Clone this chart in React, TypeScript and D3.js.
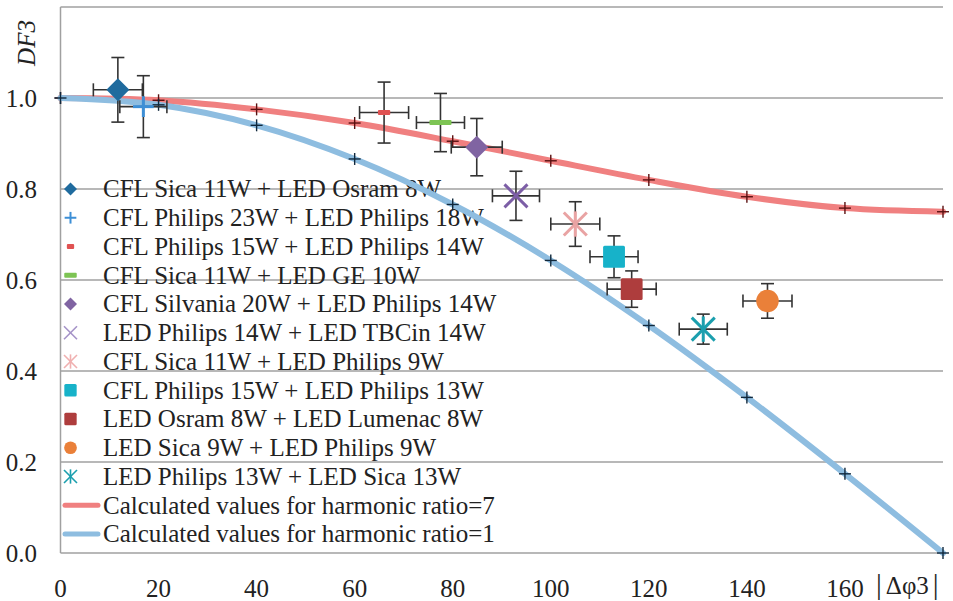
import React from "react";
import * as d3 from "d3";

const W = 953, H = 601;

// curve abscissas and calculated values
const curveX = [0, 20, 40, 60, 80, 100, 120, 140, 160, 180];
const ratio7 = [1.0, 0.995, 0.975, 0.945, 0.905, 0.862, 0.82, 0.783, 0.758, 0.75];
const ratio1 = [1.0, 0.985, 0.94, 0.866, 0.766, 0.643, 0.5, 0.342, 0.174, 0.0];

// measured points
const names = [
  "CFL Sica 11W + LED Osram 8W",
  "CFL Philips 23W + LED Philips 18W",
  "CFL Philips 15W + LED Philips 14W",
  "CFL Sica 11W + LED GE 10W",
  "CFL Silvania 20W + LED Philips 14W",
  "LED Philips 14W + LED TBCin 14W",
  "CFL Sica 11W + LED Philips 9W",
  "CFL Philips 15W + LED Philips 13W",
  "LED Osram 8W + LED Lumenac 8W",
  "LED Sica 9W + LED Philips 9W",
  "LED Philips 13W + LED Sica 13W",
];
const ptX = [11.7, 16.9, 66.0, 77.5, 84.9, 92.9, 105.0, 112.9, 116.5, 144.2, 131.1];
const ptY = [1.018, 0.981, 0.968, 0.946, 0.892, 0.785, 0.723, 0.651, 0.58, 0.554, 0.492];
const errX = [5, 4.8, 5, 4.9, 5.2, 4.8, 5, 4.9, 5, 5, 4.9];
const errY = [0.071, 0.068, 0.067, 0.064, 0.063, 0.054, 0.049, 0.046, 0.04, 0.038, 0.033];
const markers = ["diamond", "plus", "dash", "dashLong", "diamond", "x", "star", "square", "square", "circle", "star"];
const colors = ["#1F6B9E", "#3D8FD6", "#E05252", "#7DC454", "#8064A2", "#7C5EA6", "#E9A3A3", "#17B2C9", "#AE3D3D", "#EA8039", "#1B9FAE"];
const legendColors = ["#1F6B9E", "#3D8FD6", "#E05252", "#7DC454", "#8064A2", "#A593C8", "#F0B0B0", "#17B2C9", "#AE3D3D", "#EA8039", "#1B9FAE"];
const lineNames = ["Calculated values for harmonic ratio=7", "Calculated values for harmonic ratio=1"];
const lineColors = ["#F08080", "#8EBDE0"];

const xTicks = [0, 20, 40, 60, 80, 100, 120, 140, 160];
const yTicks = [0.0, 0.2, 0.4, 0.6, 0.8, 1.0, 1.2];

const FONT = "Liberation Serif, serif";

function Marker({ type, x, y, s, color }: { type: string; x: number; y: number; s: number; color: string }) {
  const h = s / 2;
  switch (type) {
    case "diamond":
      return <path d={`M${x},${y - h}L${x + h},${y}L${x},${y + h}L${x - h},${y}Z`} fill={color} />;
    case "square":
      return <rect x={x - h * 0.95} y={y - h * 0.95} width={h * 1.9} height={h * 1.9} fill={color} rx={1.5} />;
    case "circle":
      return <circle cx={x} cy={y} r={h * 0.98} fill={color} />;
    case "plus":
      return (
        <g stroke={color} strokeWidth={s > 14 ? 3 : 2}>
          <line x1={x - h * 0.9} x2={x + h * 0.9} y1={y} y2={y} />
          <line x1={x} x2={x} y1={y - h * 0.9} y2={y + h * 0.9} />
        </g>
      );
    case "dash":
      return <rect x={x - s * 0.28} y={y - 2.5} width={s * 0.56} height={5} fill={color} rx={1} />;
    case "dashLong":
      return <rect x={x - s * 0.48} y={y - 2.5} width={s * 0.96} height={5} fill={color} rx={1} />;
    case "x":
      return (
        <g stroke={color} strokeWidth={s > 14 ? 3 : 1.6}>
          <line x1={x - h} x2={x + h} y1={y - h} y2={y + h} />
          <line x1={x - h} x2={x + h} y1={y + h} y2={y - h} />
        </g>
      );
    case "star":
      return (
        <g stroke={color} strokeWidth={s > 14 ? 3 : 1.6}>
          <line x1={x - h} x2={x + h} y1={y - h} y2={y + h} />
          <line x1={x - h} x2={x + h} y1={y + h} y2={y - h} />
          <line x1={x} x2={x} y1={y - h * 1.1} y2={y + h * 1.1} />
        </g>
      );
  }
  return null;
}

export default function App() {
  const x = d3.scaleLinear().domain([0, 180]).range([60.5, 943]);
  const y = d3.scaleLinear().domain([0, 1.2]).range([553, 7]);
  const line = d3
    .line<number>()
    .x((_, i) => x(curveX[i]))
    .y((d) => y(d))
    .curve(d3.curveCatmullRom.alpha(0.5));

  const legendTop = 189;
  const legendStep = 28.75;
  const allLegend = [...names, ...lineNames];
  const ts = { fontFamily: FONT };
  const cap = 6.5;

  return (
    <svg width={W} height={H} style={{ position: "absolute", left: 0, top: 0, background: "#fff" }}>
      <rect width={W} height={H} fill="#fff" />
      {/* grid */}
      {yTicks.map((t) => (
        <line key={t} x1={x(0)} x2={x(180)} y1={y(t)} y2={y(t)} stroke="#A0A0A0" strokeWidth={1.5} />
      ))}
      <line x1={x(0)} x2={x(0)} y1={y(1.2)} y2={y(0)} stroke="#A0A0A0" strokeWidth={1.5} />

      {/* y tick labels */}
      {yTicks.filter((t) => t < 1.1).map((t) => (
        <text key={t} x={37} y={y(t)} dy="0.34em" textAnchor="end" fontSize={25} fill="#222" style={ts}>
          {d3.format(".1f")(t)}
        </text>
      ))}
      {/* x tick labels */}
      {xTicks.map((t) => (
        <text key={t} x={x(t)} y={597} textAnchor="middle" fontSize={25} fill="#222" style={ts}>
          {t}
        </text>
      ))}
      <text x={876} y={594} fontSize={25} fill="#222" style={ts}>
        <tspan fontSize={29}>|</tspan>
        <tspan dx={4}>Δφ3</tspan>
        <tspan dx={4} fontSize={29}>|</tspan>
      </text>
      <text transform={`translate(35,43) rotate(-90)`} textAnchor="middle" fontSize={25} fontStyle="italic" fill="#222" style={ts}>
        DF3
      </text>

      {/* legend */}
      {allLegend.map((n, i) => {
        const ly = legendTop + i * legendStep;
        return (
          <g key={n}>
            {i < names.length ? (
              <Marker type={markers[i]} x={70.5} y={ly} s={13} color={legendColors[i]} />
            ) : (
              <line x1={65} x2={98} y1={ly} y2={ly} stroke={lineColors[i - names.length]} strokeWidth={5} strokeLinecap="round" />
            )}
            <text x={103} y={ly} dy="0.33em" fontSize={25} fill="#222" style={ts}>
              {n}
            </text>
          </g>
        );
      })}

      {/* calculated curves */}
      {[ratio7, ratio1].map((s, k) => (
        <g key={k}>
          <path d={line(s) || ""} fill="none" stroke={lineColors[k]} strokeWidth={6} strokeLinecap="round" />
          {s.map((v, i) => (
            <g key={i} stroke={k === 0 ? "#5A1010" : "#10283C"} strokeWidth={1.4}>
              <line x1={x(curveX[i]) - 6} x2={x(curveX[i]) + 6} y1={y(v)} y2={y(v)} />
              <line x1={x(curveX[i])} x2={x(curveX[i])} y1={y(v) - 6} y2={y(v) + 6} />
            </g>
          ))}
        </g>
      ))}

      {/* error bars */}
      {ptX.map((px, i) => {
        const cx = x(px), cy = y(ptY[i]);
        const x0 = x(px - errX[i]), x1 = x(px + errX[i]);
        const y0 = y(ptY[i] + errY[i]), y1 = y(ptY[i] - errY[i]);
        return (
          <g key={i} stroke="#333" strokeWidth={1.6} fill="none">
            <line x1={x0} x2={x1} y1={cy} y2={cy} />
            <line x1={x0} x2={x0} y1={cy - cap} y2={cy + cap} />
            <line x1={x1} x2={x1} y1={cy - cap} y2={cy + cap} />
            <line x1={cx} x2={cx} y1={y0} y2={y1} />
            <line x1={cx - cap} x2={cx + cap} y1={y0} y2={y0} />
            <line x1={cx - cap} x2={cx + cap} y1={y1} y2={y1} />
          </g>
        );
      })}
      {/* markers */}
      {ptX.map((px, i) => (
        <Marker key={i} type={markers[i]} x={x(px)} y={y(ptY[i])} s={markers[i] === "dash" ? 22 : 23} color={colors[i]} />
      ))}
    </svg>
  );
}
